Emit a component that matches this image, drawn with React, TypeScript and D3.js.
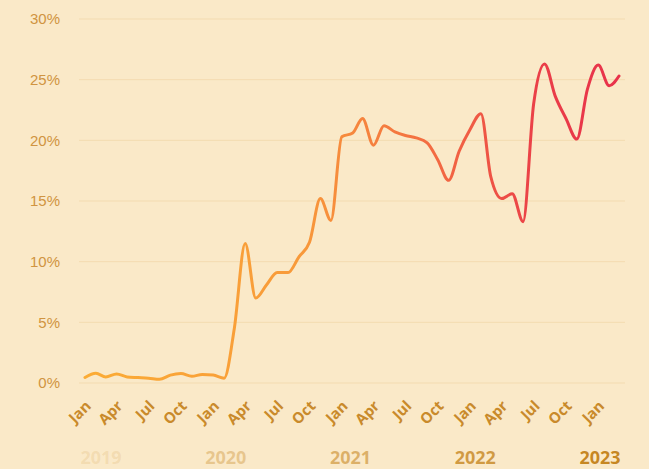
import React from 'react'
import * as d3 from 'd3'

// monthly values, Jan 2019 .. Mar 2023 (%)
const startYear = 2019
const values = [
  0.45, 0.8, 0.5, 0.75, 0.5, 0.45, 0.4, 0.3, 0.65, 0.78, 0.55, 0.7,
  0.65, 0.4, 4.5, 11.5, 7.0, 8.1, 9.1, 9.1, 10.4, 11.6, 15.2, 13.4,
  20.3, 20.6, 21.8, 19.6, 21.2, 20.7, 20.4, 20.2, 19.8, 18.4, 16.7, 19.1,
  20.9, 22.2, 17.0, 15.2, 15.6, 13.3, 23.0, 26.3, 23.6, 21.8, 20.1, 24.2,
  26.2, 24.5, 25.3,
]
const yTicks = [0, 5, 10, 15, 20, 25, 30]
const monthNames = ['Jan', 'Apr', 'Jul', 'Oct']
const years = [2019, 2020, 2021, 2022, 2023]

const W = 649
const H = 469
const BG = '#fae9c8'

const data = values.map((v, i) => ({ date: new Date(startYear, i, 1), value: v }))

export default function App() {
  const x = d3
    .scaleTime()
    .domain([data[0].date, data[data.length - 1].date])
    .range([85, 619])
  const y = d3.scaleLinear().domain([0, 30]).range([383, 19])

  const line = d3
    .line<{ date: Date; value: number }>()
    .x(d => x(d.date))
    .y(d => y(d.value))
    .curve(d3.curveMonotoneX)

  const ticks = d3.timeMonth.every(3)!.range(new Date(2019, 0, 1), new Date(2023, 1, 1))
  const yearX = d3.scalePoint<number>().domain(years).range([101, 600])

  return (
    <div style={{ position: 'fixed', left: 0, top: 0 }}>
      <svg width={W} height={H} style={{ display: 'block' }}>
        <defs>
          <linearGradient id="lineGrad" gradientUnits="userSpaceOnUse" x1={85} x2={619} y1={0} y2={0}>
            <stop offset="0" stopColor="#fbac35" />
            <stop offset="0.4" stopColor="#f89a3a" />
            <stop offset="0.65" stopColor="#f36c42" />
            <stop offset="0.85" stopColor="#ea3f48" />
            <stop offset="1" stopColor="#e8324b" />
          </linearGradient>
        </defs>
        <rect width={W} height={H} fill={BG} />

        {/* grid + y labels */}
        {yTicks.map(t => (
          <g key={t}>
            <line x1={79} x2={625} y1={y(t)} y2={y(t)} stroke="#f3dbb0" strokeWidth={1} />
            <text
              x={60}
              y={y(t)}
              dy="0.35em"
              textAnchor="end"
              fontFamily="Liberation Sans, Arial, sans-serif"
              fontSize={15}
              fill="#d09441"
            >
              {t}%
            </text>
          </g>
        ))}

        <path d={line(data) || ''} fill="none" stroke="url(#lineGrad)" strokeWidth={3} strokeLinecap="round" strokeLinejoin="round" />

        {/* month ticks */}
        {ticks.map((d, i) => (
          <text
            key={i}
            transform={`translate(${x(d) + 7},${407}) rotate(-45)`}
            textAnchor="end"
            fontFamily="Open Sans, sans-serif"
            fontWeight={700}
            fontSize={15}
            fill="#c98a2b"
          >
            {monthNames[d.getMonth() / 3]}
          </text>
        ))}

        {/* year labels */}
        {years.map((yr, i) => (
          <text
            key={yr}
            x={yearX(yr)}
            y={464}
            textAnchor="middle"
            fontFamily="Open Sans, sans-serif"
            fontWeight={700}
            fontSize={18}
            fill="#c5841d"
            fillOpacity={0.15 + i * 0.21}
          >
            {yr}
          </text>
        ))}
      </svg>
    </div>
  )
}
